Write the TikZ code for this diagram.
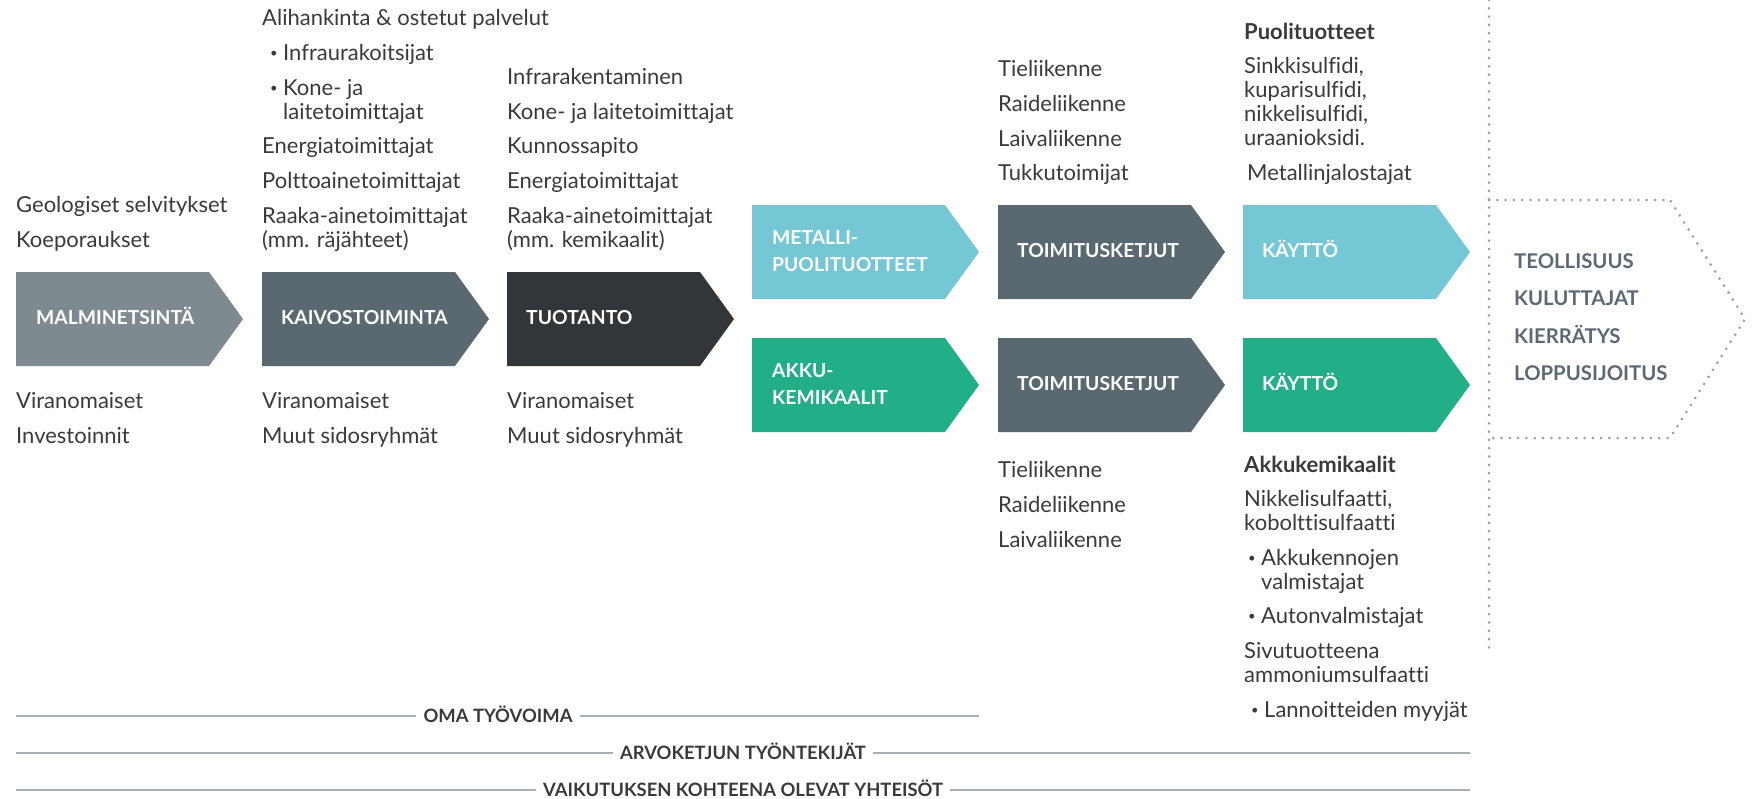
\documentclass[tikz,border=0pt]{standalone}
\usepackage{fontspec}
\setmainfont[Ligatures=NoCommon]{Lato}
\definecolor{cA}{HTML}{7F8A90}
\definecolor{cB}{HTML}{5A6870}
\definecolor{cC}{HTML}{323638}
\definecolor{cTeal}{HTML}{76C7D5}
\definecolor{cGreen}{HTML}{22AE87}
\definecolor{cTxt}{HTML}{3A3A3A}
\definecolor{cPent}{HTML}{5B6A72}
\definecolor{cLine}{HTML}{A7AFB4}
\definecolor{cDot}{HTML}{98A1A7}
\newcommand{\chevbox}[3]{% x, y, colour
  \fill[#3] (#1,#2) -- ++(193,0) -- ++(34,47) -- ++(-34,47) -- ++(-193,0) -- cycle;}
\newcommand{\bul}{\makebox[13pt][l]{\raisebox{0.12em}{\fontsize{13}{13}\selectfont •}}}
\begin{document}
\begin{tikzpicture}[x=1pt,y=-1pt,
  txt/.style={font=\fontsize{22}{24}\selectfont, text=cTxt, inner sep=0pt, anchor=base west},
  hd/.style={txt, font=\bfseries\fontsize{22}{24}\selectfont},
  boxtxt/.style={font=\bfseries\fontsize{19.3}{27}\selectfont, text=white, inner sep=0pt, anchor=base west},
  penttxt/.style={font=\bfseries\fontsize{20.3}{24}\selectfont, text=cPent, inner sep=0pt, anchor=base west},
  rule/.style={draw=cLine, line width=2.6pt},
  rulelbl/.style={font=\bfseries\fontsize{18.4}{20}\selectfont, text=cTxt, inner xsep=7pt, inner ysep=0pt, anchor=base},
  dots/.style={draw=cDot, line width=3pt, line cap=round, dash pattern=on 0pt off 8.3pt}]
\useasboundingbox (0,0) rectangle (1755,798);

% chevrons
\chevbox{16}{272}{cA}
\chevbox{262}{272}{cB}
\chevbox{507}{272}{cC}
\chevbox{752}{205}{cTeal}
\chevbox{752}{338}{cGreen}
\chevbox{998}{205}{cB}
\chevbox{998}{338}{cB}
\chevbox{1243}{205}{cTeal}
\chevbox{1243}{338}{cGreen}

\node[boxtxt] (bMal) at (36,324) {MALMINETSINTÄ};
\node[boxtxt] (bKai) at (281,324) {KAIVOSTOIMINTA};
\node[boxtxt] (bTuo) at (526,324) {TUOTANTO};
\node[boxtxt] (bMet1) at (772,244) {METALLI-};
\node[boxtxt] (bMet2) at (772,271) {PUOLITUOTTEET};
\node[boxtxt] (bAkk1) at (772,377) {AKKU-};
\node[boxtxt] (bAkk2) at (772,404) {KEMIKAALIT};
\node[boxtxt] (bToi1) at (1017,257) {TOIMITUSKETJUT};
\node[boxtxt] (bToi2) at (1017,390) {TOIMITUSKETJUT};
\node[boxtxt] (bKay1) at (1262,257) {KÄYTTÖ};
\node[boxtxt] (bKay2) at (1262,390) {KÄYTTÖ};

% column A
\node[txt] (a1) at (16,212) {Geologiset selvitykset};
\node[txt] (a2) at (16,247) {Koeporaukset};
\node[txt] (a3) at (16,408) {Viranomaiset};
\node[txt] (a4) at (16,443) {Investoinnit};

% column B
\node[txt] (b1) at (262,25) {Alihankinta \& ostetut palvelut};
\node[txt] (b2) at (270,60) {\bul Infraurakoitsijat};
\node[txt] (b3) at (270,95) {\bul Kone- ja};
\node[txt] (b4) at (283,119) {laitetoimittajat};
\node[txt] (b5) at (262,153) {Energiatoimittajat};
\node[txt] (b6) at (262,188) {Polttoainetoimittajat};
\node[txt] (b7) at (262,223) {Raaka-ainetoimittajat};
\node[txt] (b8) at (262,247) {(mm. räjähteet)};
\node[txt] (b9) at (262,408) {Viranomaiset};
\node[txt] (b10) at (262,443) {Muut sidosryhmät};

% column C
\node[txt] (c1) at (507,84) {Infrarakentaminen};
\node[txt] (c2) at (507,119) {Kone- ja laitetoimittajat};
\node[txt] (c3) at (507,153) {Kunnossapito};
\node[txt] (c4) at (507,188) {Energiatoimittajat};
\node[txt] (c5) at (507,223) {Raaka-ainetoimittajat};
\node[txt] (c6) at (507,247) {(mm. kemikaalit)};
\node[txt] (c7) at (507,408) {Viranomaiset};
\node[txt] (c8) at (507,443) {Muut sidosryhmät};

% column E
\node[txt] (e1) at (998,76) {Tieliikenne};
\node[txt] (e2) at (998,111) {Raideliikenne};
\node[txt] (e3) at (998,146) {Laivaliikenne};
\node[txt] (e4) at (998,180) {Tukkutoimijat};
\node[txt] (e5) at (998,477) {Tieliikenne};
\node[txt] (e6) at (998,512) {Raideliikenne};
\node[txt] (e7) at (998,547) {Laivaliikenne};

% column F
\node[hd] (f1) at (1244,39) {Puolituotteet};
\node[txt] (f2) at (1244,73) {Sinkkisulfidi,};
\node[txt] (f3) at (1244,97) {kuparisulfidi,};
\node[txt] (f4) at (1244,121) {nikkelisulfidi,};
\node[txt] (f5) at (1244,145) {uraanioksidi.};
\node[txt] (f6) at (1247,180) {Metallinjalostajat};
\node[hd] (f7) at (1244,472) {Akkukemikaalit};
\node[txt] (f8) at (1244,506) {Nikkelisulfaatti,};
\node[txt] (f9) at (1244,530) {kobolttisulfaatti};
\node[txt] (f10) at (1248,565) {\bul Akkukennojen};
\node[txt] (f11) at (1261,589) {valmistajat};
\node[txt] (f12) at (1248,623) {\bul Autonvalmistajat};
\node[txt] (f13) at (1244,658) {Sivutuotteena};
\node[txt] (f14) at (1244,682) {ammoniumsulfaatti};
\node[txt] (f15) at (1251,717) {\bul Lannoitteiden myyjät};

% dotted divider and end pentagon
\coordinate (vTop) at (1489,0);
\coordinate (vBot) at (1489,650);
\draw[dots] (vTop) -- (vBot);
\coordinate (p1) at (1489,200);
\coordinate (p2) at (1670,200);
\coordinate (p3) at (1745,319);
\coordinate (p4) at (1670,438);
\coordinate (p5) at (1489,438);
\draw[dots] (p1) -- (p2) -- (p3) -- (p4) -- (p5);
\node[penttxt] (g1) at (1514,268) {TEOLLISUUS};
\node[penttxt] (g2) at (1514,305) {KULUTTAJAT};
\node[penttxt] (g3) at (1514,343) {KIERRÄTYS};
\node[penttxt] (g4) at (1514,380) {LOPPUSIJOITUS};

% bottom rules
\coordinate (r1s) at (16,716); \coordinate (r1e) at (979,716);
\coordinate (r2s) at (16,753); \coordinate (r2e) at (1470,753);
\coordinate (r3s) at (16,790); \coordinate (r3e) at (1470,790);
\node[rulelbl] (l1) at (498,722.5) {OMA TYÖVOIMA};
\node[rulelbl] (l2) at (743,759.5) {ARVOKETJUN TYÖNTEKIJÄT};
\node[rulelbl] (l3) at (743,796.5) {VAIKUTUKSEN KOHTEENA OLEVAT YHTEISÖT};
\draw[rule] (r1s) -- (r1s -| l1.west);
\draw[rule] (r1e -| l1.east) -- (r1e);
\draw[rule] (r2s) -- (r2s -| l2.west);
\draw[rule] (r2e -| l2.east) -- (r2e);
\draw[rule] (r3s) -- (r3s -| l3.west);
\draw[rule] (r3e -| l3.east) -- (r3e);
\end{tikzpicture}
\end{document}
